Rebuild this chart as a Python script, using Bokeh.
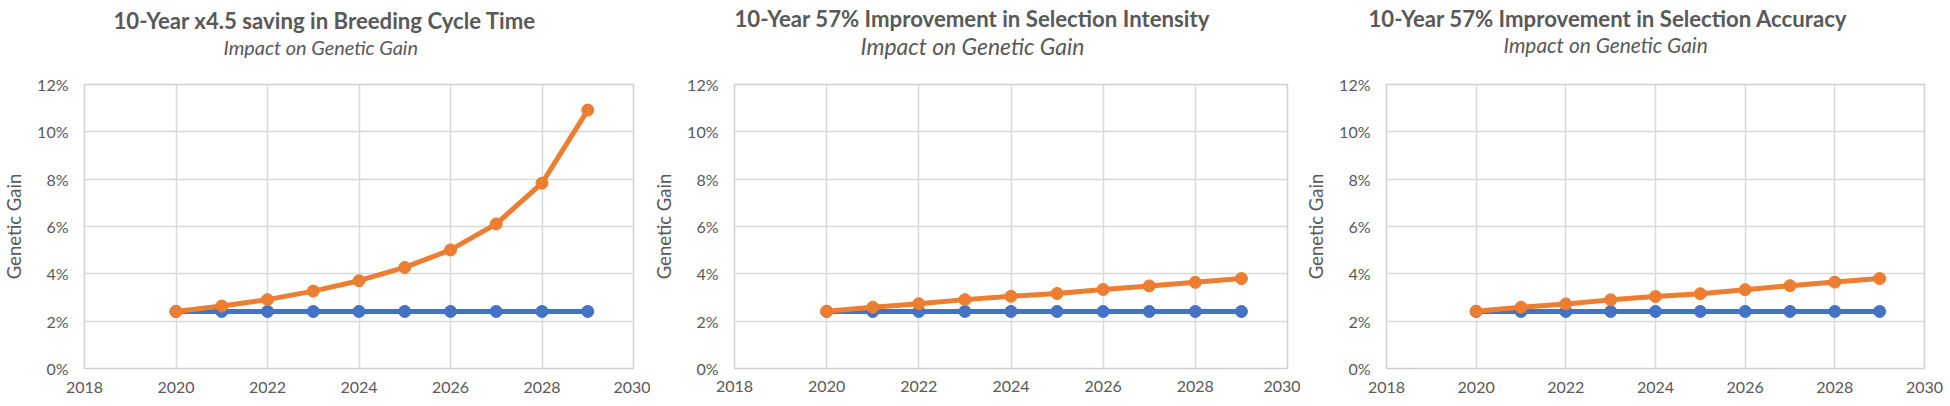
from bokeh.plotting import figure
from bokeh.layouts import row
from bokeh.models import Title, FixedTicker, PrintfTickFormatter, Range1d, ColumnDataSource
from bokeh.embed import file_html
from bokeh.resources import INLINE

years = [2020, 2021, 2022, 2023, 2024, 2025, 2026, 2027, 2028, 2029]
baseline = [2.41, 2.41, 2.41, 2.41, 2.41, 2.41, 2.41, 2.41, 2.41, 2.41]
cycle_time = [2.41, 2.64, 2.91, 3.27, 3.71, 4.27, 5.01, 6.11, 7.83, 10.92]
sel_intensity = [2.42, 2.59, 2.74, 2.91, 3.05, 3.17, 3.34, 3.49, 3.64, 3.80]
sel_accuracy = [2.42, 2.59, 2.73, 2.90, 3.04, 3.16, 3.33, 3.50, 3.65, 3.80]

titles = ["10-Year x4.5 saving in Breeding Cycle Time",
          "10-Year 57% Improvement in Selection Intensity",
          "10-Year 57% Improvement in Selection Accuracy"]
subtitle = "Impact on Genetic Gain"
y_label = "Genetic Gain"
x_ticks = [2018, 2020, 2022, 2024, 2026, 2028, 2030]
y_ticks = [0, 2, 4, 6, 8, 10, 12]

BLUE = "#4472C4"
ORANGE = "#ED7D31"
GREY_TXT = "#595959"
GRID = "#D9D9D9"
FRAME = "#D0D0D0"
FONT = "Lato"

# per panel layout: width, border left/right/top/bottom, x-label standoff,
#   title (offset, standoff, size), subtitle (offset, standoff, size)
panels = [
    dict(w=650, bl=77, br=17, bt=83, bb=38, xs=13, t=(29, -53, "22.2px"), s=(139, 51.1, "19.9px")),
    dict(w=650, bl=81, br=13, bt=83, bb=34, xs=12, t=(0, -54.6, "22.2px"), s=(126, 49.5, "22.9px")),
    dict(w=648, bl=86, br=24, bt=84, bb=35, xs=13, t=(-18, -60, "22.2px"), s=(117, 55.9, "20.9px")),
]
series = [cycle_time, sel_intensity, sel_accuracy]

figs = []
for i, c in enumerate(panels):
    p = figure(width=c["w"], height=406, output_backend="svg", toolbar_location=None,
               x_range=Range1d(2018, 2030), y_range=Range1d(0, 12),
               min_border_left=c["bl"], min_border_right=c["br"],
               min_border_top=c["bt"], min_border_bottom=c["bb"])
    p.title.visible = False
    p.background_fill_color = "white"
    p.border_fill_color = "white"
    p.outline_line_color = FRAME
    p.outline_line_width = 1.5

    p.xaxis.ticker = FixedTicker(ticks=x_ticks)
    p.yaxis.ticker = FixedTicker(ticks=y_ticks)
    p.yaxis.formatter = PrintfTickFormatter(format="%d%%")
    for ax in (p.xaxis, p.yaxis):
        ax.axis_line_color = None
        ax.major_tick_line_color = None
        ax.minor_tick_line_color = None
        ax.major_tick_out = 0
        ax.major_tick_in = 0
        ax.minor_tick_out = 0
        ax.minor_tick_in = 0
        ax.major_label_text_font = FONT
        ax.major_label_text_font_size = "16px"
        ax.major_label_text_color = GREY_TXT
    p.yaxis.major_label_standoff = 16
    p.xaxis.major_label_standoff = c["xs"]
    p.yaxis.axis_label = y_label
    p.yaxis.axis_label_standoff = 9
    p.yaxis.axis_label_text_font = FONT
    p.yaxis.axis_label_text_font_style = "normal"
    p.yaxis.axis_label_text_font_size = "18.5px"
    p.yaxis.axis_label_text_color = GREY_TXT
    p.xgrid.grid_line_color = GRID
    p.ygrid.grid_line_color = GRID
    p.xgrid.grid_line_width = 1.5
    p.ygrid.grid_line_width = 1.5

    src = ColumnDataSource(dict(year=years, base=baseline, val=series[i]))
    p.line("year", "base", source=src, line_color=BLUE, line_width=5)
    p.scatter("year", "base", source=src, size=12, fill_color=BLUE, line_color=BLUE)
    p.line("year", "val", source=src, line_color=ORANGE, line_width=5)
    p.scatter("year", "val", source=src, size=12, fill_color=ORANGE, line_color=ORANGE)

    so, ss, sz = c["s"]
    p.add_layout(Title(text=subtitle, align="left", offset=so, standoff=ss,
                       text_font=FONT, text_font_style="italic", text_font_size=sz,
                       text_color=GREY_TXT), "above")
    to, ts, tz = c["t"]
    p.add_layout(Title(text=titles[i], align="left", offset=to, standoff=ts,
                       text_font=FONT, text_font_style="bold", text_font_size=tz,
                       text_color=GREY_TXT), "above")
    figs.append(p)

layout = row(*figs)
open("out.html", "w").write(file_html(layout, INLINE))
